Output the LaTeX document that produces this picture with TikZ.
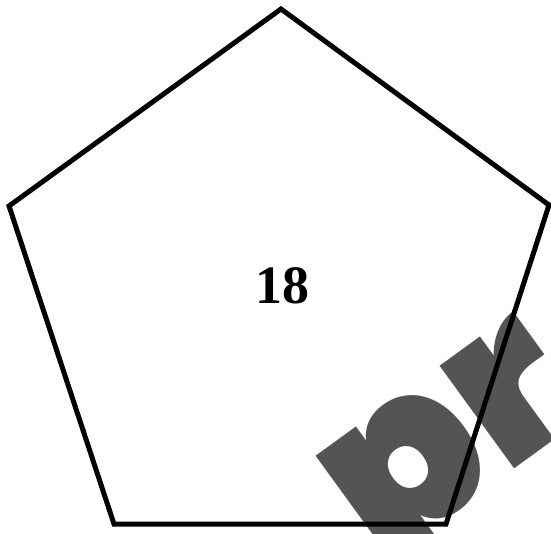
\documentclass[tikz,border=0pt]{standalone}
\usepackage{fontspec}
\setmainfont{Liberation Serif}
\newfontfamily\markfont{Poppins}[UprightFont={* Black}]
\begin{document}
\begin{tikzpicture}[x=1pt,y=-1pt]
  \useasboundingbox (0,0) rectangle (551,533);
  % watermark, cut off by the page edge
  \begin{scope}
    \clip (0,0) rectangle (551,533);
    \node[text=black!67,font=\markfont\fontsize{225}{225}\selectfont,
          rotate=36,inner sep=0pt] (mark) at (466,462) {pr};
  \end{scope}
  % pentagon
  \coordinate (top) at (281,9);
  \coordinate (right) at (549,205);
  \coordinate (botright) at (446,524);
  \coordinate (botleft) at (114,524);
  \coordinate (left) at (9,206);
  \draw[line width=5pt,miter limit=10] (top) -- (right) -- (botright) -- (botleft) -- (left) -- cycle;
  \node[font=\bfseries\fontsize{54}{54}\selectfont,inner sep=0pt] (num) at (282,286) {18};
\end{tikzpicture}
\end{document}
